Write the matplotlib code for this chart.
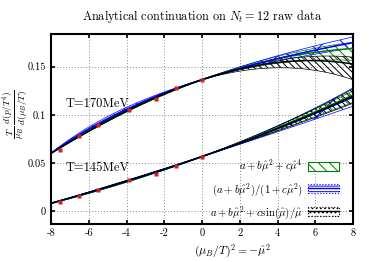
import numpy as np
import matplotlib
matplotlib.use('Agg')
import matplotlib.pyplot as plt
from matplotlib.patches import Patch
from matplotlib.lines import Line2D

plt.rcParams['font.family'] = 'cmr10'
plt.rcParams['mathtext.fontset'] = 'cm'
plt.rcParams['axes.unicode_minus'] = False
plt.rcParams['axes.formatter.use_mathtext'] = True
plt.rcParams['hatch.linewidth'] = 0.7

# lattice data: (mu_B/T)^2 and T/mu_B d(p/T^4)/d(mu_B/T)
mu2_data = [-7.52, -6.52, -5.51, -3.85, -2.45, -1.38, 0.0]
val_170 = [0.0635, 0.0780, 0.0896, 0.1052, 0.1167, 0.1278, 0.1365]
val_145 = [0.0097, 0.0159, 0.0219, 0.0323, 0.0389, 0.0472, 0.0566]

# fit parameters (a, b, c) for lower edge, central, upper edge of each band
poly_170 = [(0.1365, -0.00603, -0.000442), (0.1365, -0.00681, -0.000344), (0.1365, -0.00722, -0.000293)]
pade_170 = [(0.1365, -0.012542, -0.0497), (0.1365, -0.012038, -0.0413), (0.1365, -0.011546, -0.0331)]
sinm_170 = [(0.2068, -0.017391, -0.0703), (0.1918, -0.01572, -0.0553), (0.1852, -0.014985, -0.0487)]

poly_145 = [(0.0566, -0.006560, 0.0000606), (0.0566, -0.007035, 0.00012), (0.0566, -0.007310, 0.0001544)]
pade_145 = [(0.0566, -0.0060374, 0.0047), (0.0566, -0.0059546, 0.01505), (0.0566, -0.005885, 0.02375)]
sinm_145 = [(0.05035, -0.005379, 0.00625), (0.04345, -0.004610, 0.01315), (0.03656, -0.003843, 0.02004)]

xticks = [-8, -6, -4, -2, 0, 2, 4, 6, 8]
yticks = [0, 0.05, 0.1, 0.15]
yticklabels = ['0', '0.05', '0.1', '0.15']


def poly(u, p):
    a, b, c = p
    return a + b * u + c * u**2


def pade(u, p):
    a, b, c = p
    return (a + b * u) / (1 + c * u)


def sinm(u, p):
    a, b, c = p
    s = np.sqrt(np.abs(u))
    s = np.where(s == 0, 1e-9, s)
    f = np.where(u >= 0, np.sin(s) / s, np.sinh(s) / s)
    return a + b * u + c * f


x = np.linspace(-8, 8, 401)
u = -x

fig = plt.figure(figsize=(3.74, 2.62), dpi=100)
ax = fig.add_axes([51 / 374, 1 - 224 / 262, 302 / 374, 190 / 262])

styles = [(poly, 'green', '\\\\\\'),
          (pade, 'blue', 'x'),
          (sinm, 'black', '\\\\\\\\\\')]

for pars in [(poly_170, pade_170, sinm_170), (poly_145, pade_145, sinm_145)]:
    for (fn, col, hat), p in zip(styles, pars):
        lo = fn(u, p[0])
        hi = fn(u, p[2])
        ax.fill_between(x, lo, hi, facecolor='none', edgecolor=col, hatch=hat,
                        linewidth=0.5, zorder=2)
    for (fn, col, hat), p in zip(styles, pars):
        ax.plot(x, fn(u, p[1]), color=col, lw=1.1, zorder=3)

ax.plot(mu2_data, val_170, 's', color='#cc2222', ms=3.3, mec='none', zorder=4)
ax.plot(mu2_data, val_145, 's', color='#cc2222', ms=3.3, mec='none', zorder=4)

ax.text(-7.25, 0.1115, 'T=170MeV', fontsize=9, va='center', ha='left')
ax.text(-7.25, 0.0448, 'T=145MeV', fontsize=9, va='center', ha='left')

ax.set_xlim(-8, 8)
ax.set_ylim(-0.0135, 0.184)
ax.set_xticks(xticks)
ax.set_xticklabels([str(t) for t in xticks], fontsize=7.5)
ax.set_yticks(yticks)
ax.set_yticklabels(yticklabels, fontsize=7.5)
ax.tick_params(direction='in', top=True, right=True, length=3, width=1.2)
ax.grid(True, color='#888888', ls=(0, (1, 2)), lw=0.7)
for sp in ax.spines.values():
    sp.set_linewidth(1.5)

ax.set_title(r'Analytical continuation on $N_t = 12$ raw data', fontsize=8.8, pad=10)
ax.set_xlabel(r'$(\mu_B/T)^2 = -\hat{\mu}^2$', fontsize=8.5)
ax.xaxis.set_label_coords(0.6, -0.1)
ax.set_ylabel(r'$\frac{T}{\mu_B}\,\frac{d(p/T^4)}{d(\mu_B/T)}$', fontsize=9.5)
ax.yaxis.set_label_coords(-0.073, 0.58)

handles = [Patch(facecolor='white', edgecolor='green', hatch='\\\\\\', lw=0.8),
           (Patch(facecolor='white', edgecolor='blue', hatch='---', ls=':', lw=0.8),
            Line2D([], [], color='blue', lw=1.0)),
           (Patch(facecolor='white', edgecolor='black', hatch='....', ls=':', lw=0.8),
            Line2D([], [], color='black', lw=1.0))]
labels = [r'$a+b\hat{\mu}^2+c\hat{\mu}^4$',
          r'$(a+b\hat{\mu}^2)/(1+c\hat{\mu}^2)$',
          r'$a+b\hat{\mu}^2+c\sin(\hat{\mu})/\hat{\mu}$']
ax.legend(handles, labels, loc='lower right', bbox_to_anchor=(0.955, 0.015),
          frameon=False, markerfirst=False, fontsize=7.8, handlelength=2.9,
          handleheight=0.9, labelspacing=0.6, borderpad=0, borderaxespad=0,
          handletextpad=0.5)

fig.savefig('out.png', dpi=100)
